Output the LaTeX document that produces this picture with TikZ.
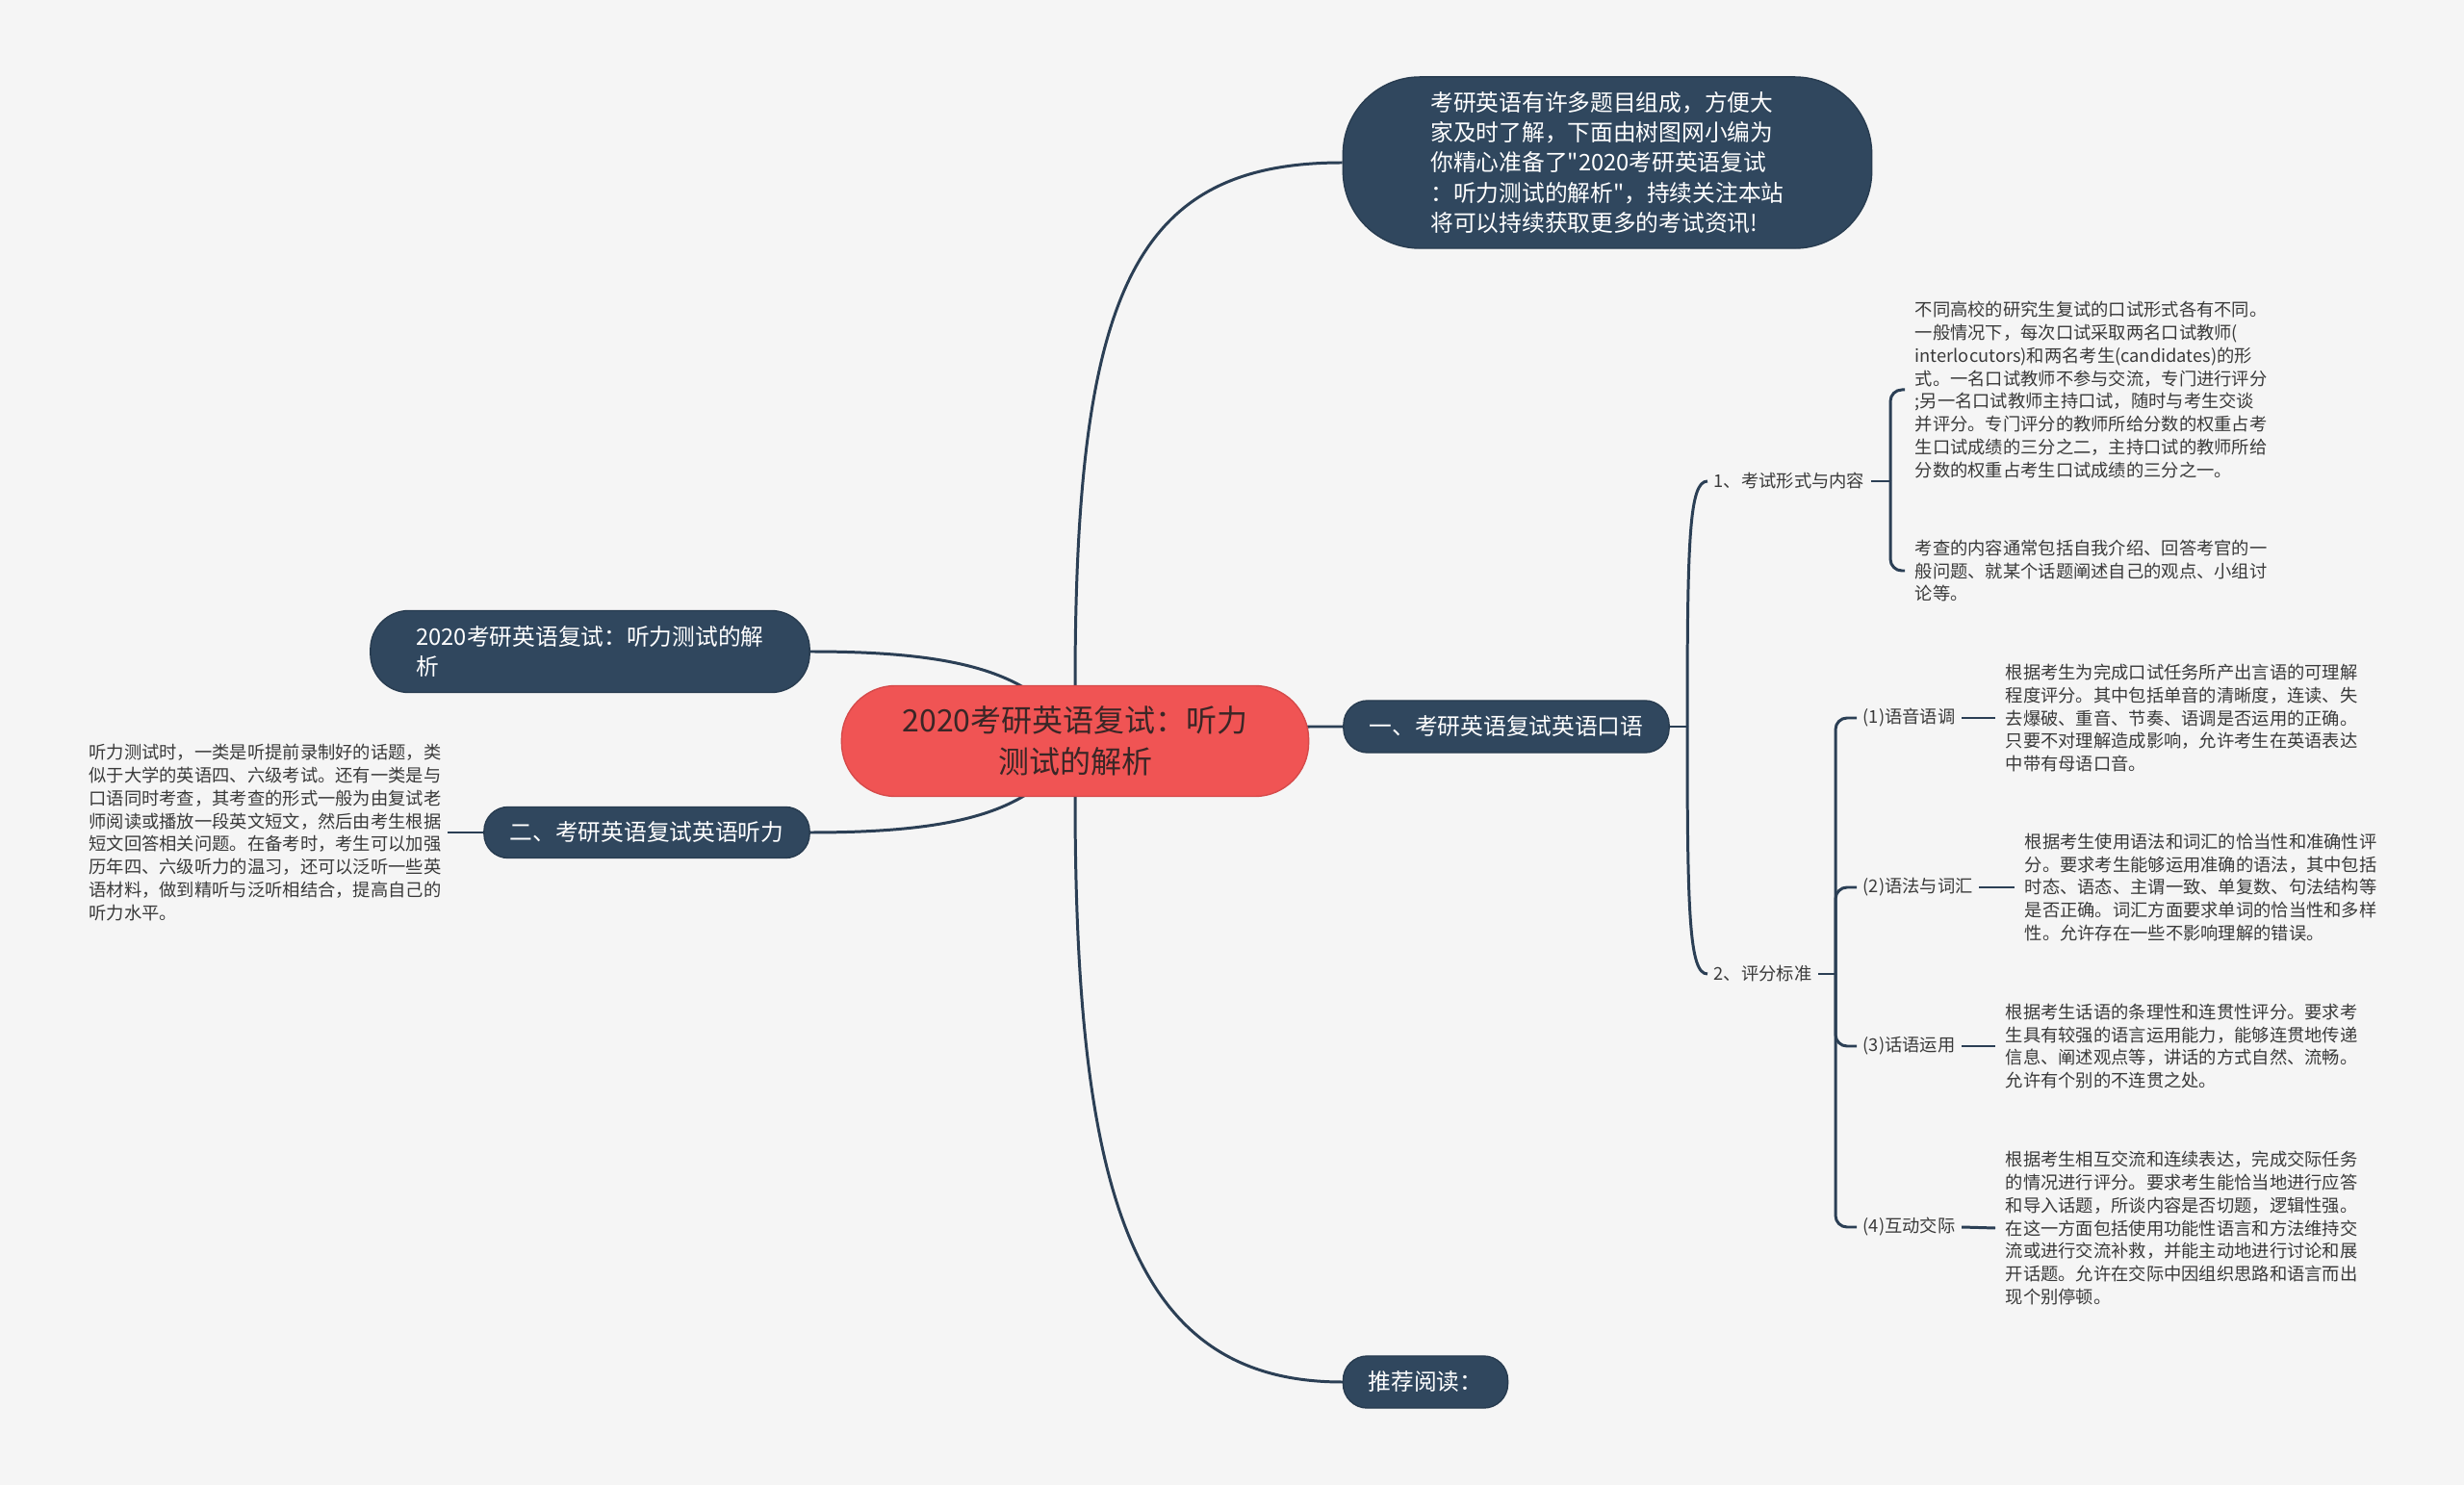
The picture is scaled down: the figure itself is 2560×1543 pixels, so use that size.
\documentclass[tikz,border=0pt]{standalone}
\usepackage{fontspec}
\setmainfont{Noto Sans CJK SC}
\newfontfamily\plainq{Noto Sans CJK SC}
\definecolor{bgc}{HTML}{F5F5F5}
\definecolor{navy}{HTML}{30475E}
\definecolor{navyedge}{HTML}{283C50}
\definecolor{navyline}{HTML}{2B3F55}
\definecolor{rootred}{HTML}{F05454}
\definecolor{rootborder}{HTML}{D64A4A}
\definecolor{roottext}{HTML}{3A2626}
\definecolor{txt}{HTML}{3A3A3A}
\pgfdeclarelayer{back}
\pgfdeclarelayer{lines}
\pgfsetlayers{back,lines,main}
\begin{document}
\begin{tikzpicture}[x=0.01cm,y=-0.01cm,
  conn/.style={draw=navyline,line width=0.85pt},
  rootnode/.style={fill=rootred,draw=rootborder,line width=0.4pt,text=roottext,
    rounded corners=0.56cm,minimum width=4.85cm,minimum height=1.15cm,inner sep=0pt,
    align=center,font=\fontsize{9.1pt}{12.3pt}\selectfont},
  topic/.style={fill=navy,draw=navyedge,line width=0.4pt,text=white,inner sep=0pt,
    align=left,font=\fontsize{6.75pt}{8.9pt}\selectfont},
  lbl/.style={text=txt,inner xsep=0.06cm,inner ysep=0pt,font=\fontsize{5.2pt}{6.75pt}\selectfont},
  para/.style={text=txt,inner xsep=0.1cm,inner ysep=0pt,align=left,font=\fontsize{5.2pt}{6.75pt}\selectfont}]
\useasboundingbox (0,0) rectangle (2560,1543);
\begin{pgfonlayer}{back}
\fill[bgc] (0,0) rectangle (2560,1543);
\end{pgfonlayer}

% nodes
\node[rootnode] (root) at (1117,770) {2020考研英语复试：听力\\测试的解析};
\node[topic,minimum width=5.49cm,minimum height=1.78cm,rounded corners=0.8cm] (intro) at (1670,169)
 {考研英语有许多题目组成，方便大\\家及时了解，下面由树图网小编为\\你精心准备了{\plainq"}2020考研英语复试\\：听力测试的解析{\plainq"}，持续关注本站\\将可以持续获取更多的考试资讯!};
\node[topic,minimum width=4.56cm,minimum height=0.85cm,rounded corners=0.4cm] (l1) at (613,677)
 {2020考研英语复试：听力测试的解\\析};
\node[topic,minimum width=3.38cm,minimum height=0.53cm,rounded corners=0.25cm] (l2) at (672,865)
 {二、考研英语复试英语听力};
\node[topic,minimum width=3.38cm,minimum height=0.54cm,rounded corners=0.25cm] (r1) at (1565,755)
 {一、考研英语复试英语口语};
\node[topic,minimum width=1.71cm,minimum height=0.54cm,rounded corners=0.25cm] (rec) at (1481,1436)
 {推荐阅读：};

\node[para,anchor=east,inner xsep=0.06cm] (lt) at (465,865)
 {听力测试时，一类是听提前录制好的话题，类\\似于大学的英语四、六级考试。还有一类是与\\口语同时考查，其考查的形式一般为由复试老\\师阅读或播放一段英文短文，然后由考生根据\\短文回答相关问题。在备考时，考生可以加强\\历年四、六级听力的温习，还可以泛听一些英\\语材料，做到精听与泛听相结合，提高自己的\\听力水平。};

\node[lbl,anchor=west] (c1) at (1774,500) {1、考试形式与内容};
\node[lbl,anchor=west] (c2) at (1774,1012) {2、评分标准};
\coordinate (j1) at (1753,755);
\coordinate (m1) at (1964,500);
\coordinate (m2) at (1907,1012);

\node[para,anchor=west] (pa) at (1979,405)
 {不同高校的研究生复试的口试形式各有不同。\\一般情况下，每次口试采取两名口试教师(\\interlocutors)和两名考生(candidates)的形\\式。一名口试教师不参与交流，专门进行评分\\;另一名口试教师主持口试，随时与考生交谈\\并评分。专门评分的教师所给分数的权重占考\\生口试成绩的三分之二，主持口试的教师所给\\分数的权重占考生口试成绩的三分之一。};
\node[para,anchor=west] (pb) at (1979,593)
 {考查的内容通常包括自我介绍、回答考官的一\\般问题、就某个话题阐述自己的观点、小组讨\\论等。};

\node[lbl,anchor=west] (s1) at (1929,746) {(1)语音语调};
\node[lbl,anchor=west] (s2) at (1929,922) {(2)语法与词汇};
\node[lbl,anchor=west] (s3) at (1929,1087) {(3)话语运用};
\node[lbl,anchor=west] (s4) at (1929,1275) {(4)互动交际};

\node[para,anchor=west] (t1) at (2073,746)
 {根据考生为完成口试任务所产出言语的可理解\\程度评分。其中包括单音的清晰度，连读、失\\去爆破、重音、节奏、语调是否运用的正确。\\只要不对理解造成影响，允许考生在英语表达\\中带有母语口音。};
\node[para,anchor=west] (t2) at (2093,922)
 {根据考生使用语法和词汇的恰当性和准确性评\\分。要求考生能够运用准确的语法，其中包括\\时态、语态、主谓一致、单复数、句法结构等\\是否正确。词汇方面要求单词的恰当性和多样\\性。允许存在一些不影响理解的错误。};
\node[para,anchor=west] (t3) at (2073,1087)
 {根据考生话语的条理性和连贯性评分。要求考\\生具有较强的语言运用能力，能够连贯地传递\\信息、阐述观点等，讲话的方式自然、流畅。\\允许有个别的不连贯之处。};
\node[para,anchor=west] (t4) at (2073,1276)
 {根据考生相互交流和连续表达，完成交际任务\\的情况进行评分。要求考生能恰当地进行应答\\和导入话题，所谈内容是否切题，逻辑性强。\\在这一方面包括使用功能性语言和方法维持交\\流或进行交流补救，并能主动地进行讨论和展\\开话题。允许在交际中因组织思路和语言而出\\现个别停顿。};

% connectors
\begin{pgfonlayer}{lines}
\draw[conn] (root.center) -- (1117,713) .. controls (1117,300) and (1180,169) .. (intro.west);
\draw[conn] (root.center) -- (1117,828) .. controls (1117,1250) and (1180,1436) .. (rec.west);
\draw[conn] (l1.east) .. controls (1000,677) and (1080,700) .. (root.center);
\draw[conn] (l2.east) .. controls (1000,865) and (1080,842) .. (root.center);
\draw[conn] (root.center) -- (root.east |- r1.west) -- (r1.west);
\draw[conn] (lt.east) -- (l2.west);
\draw[conn] (r1.east) -- (j1);
\draw[conn] (j1) .. controls (1753,560) and (1755,500) .. (c1.west);
\draw[conn] (j1) .. controls (1753,950) and (1755,1012) .. (c2.west);
\draw[conn] (c1.east) -- (m1);
\draw[conn,rounded corners=0.12cm] (m1) |- (pa.west);
\draw[conn,rounded corners=0.12cm] (m1) |- (pb.west);
\draw[conn] (c2.east) -- (m2);
\draw[conn,rounded corners=0.12cm] (m2) |- (s1.west);
\draw[conn,rounded corners=0.12cm] (m2) |- (s2.west);
\draw[conn,rounded corners=0.12cm] (m2) |- (s3.west);
\draw[conn,rounded corners=0.12cm] (m2) |- (s4.west);
\draw[conn] (s1.east) -- (t1.west);
\draw[conn] (s2.east) -- (t2.west);
\draw[conn] (s3.east) -- (t3.west);
\draw[conn] (s4.east) -- (t4.west);
\end{pgfonlayer}
\end{tikzpicture}
\end{document}
